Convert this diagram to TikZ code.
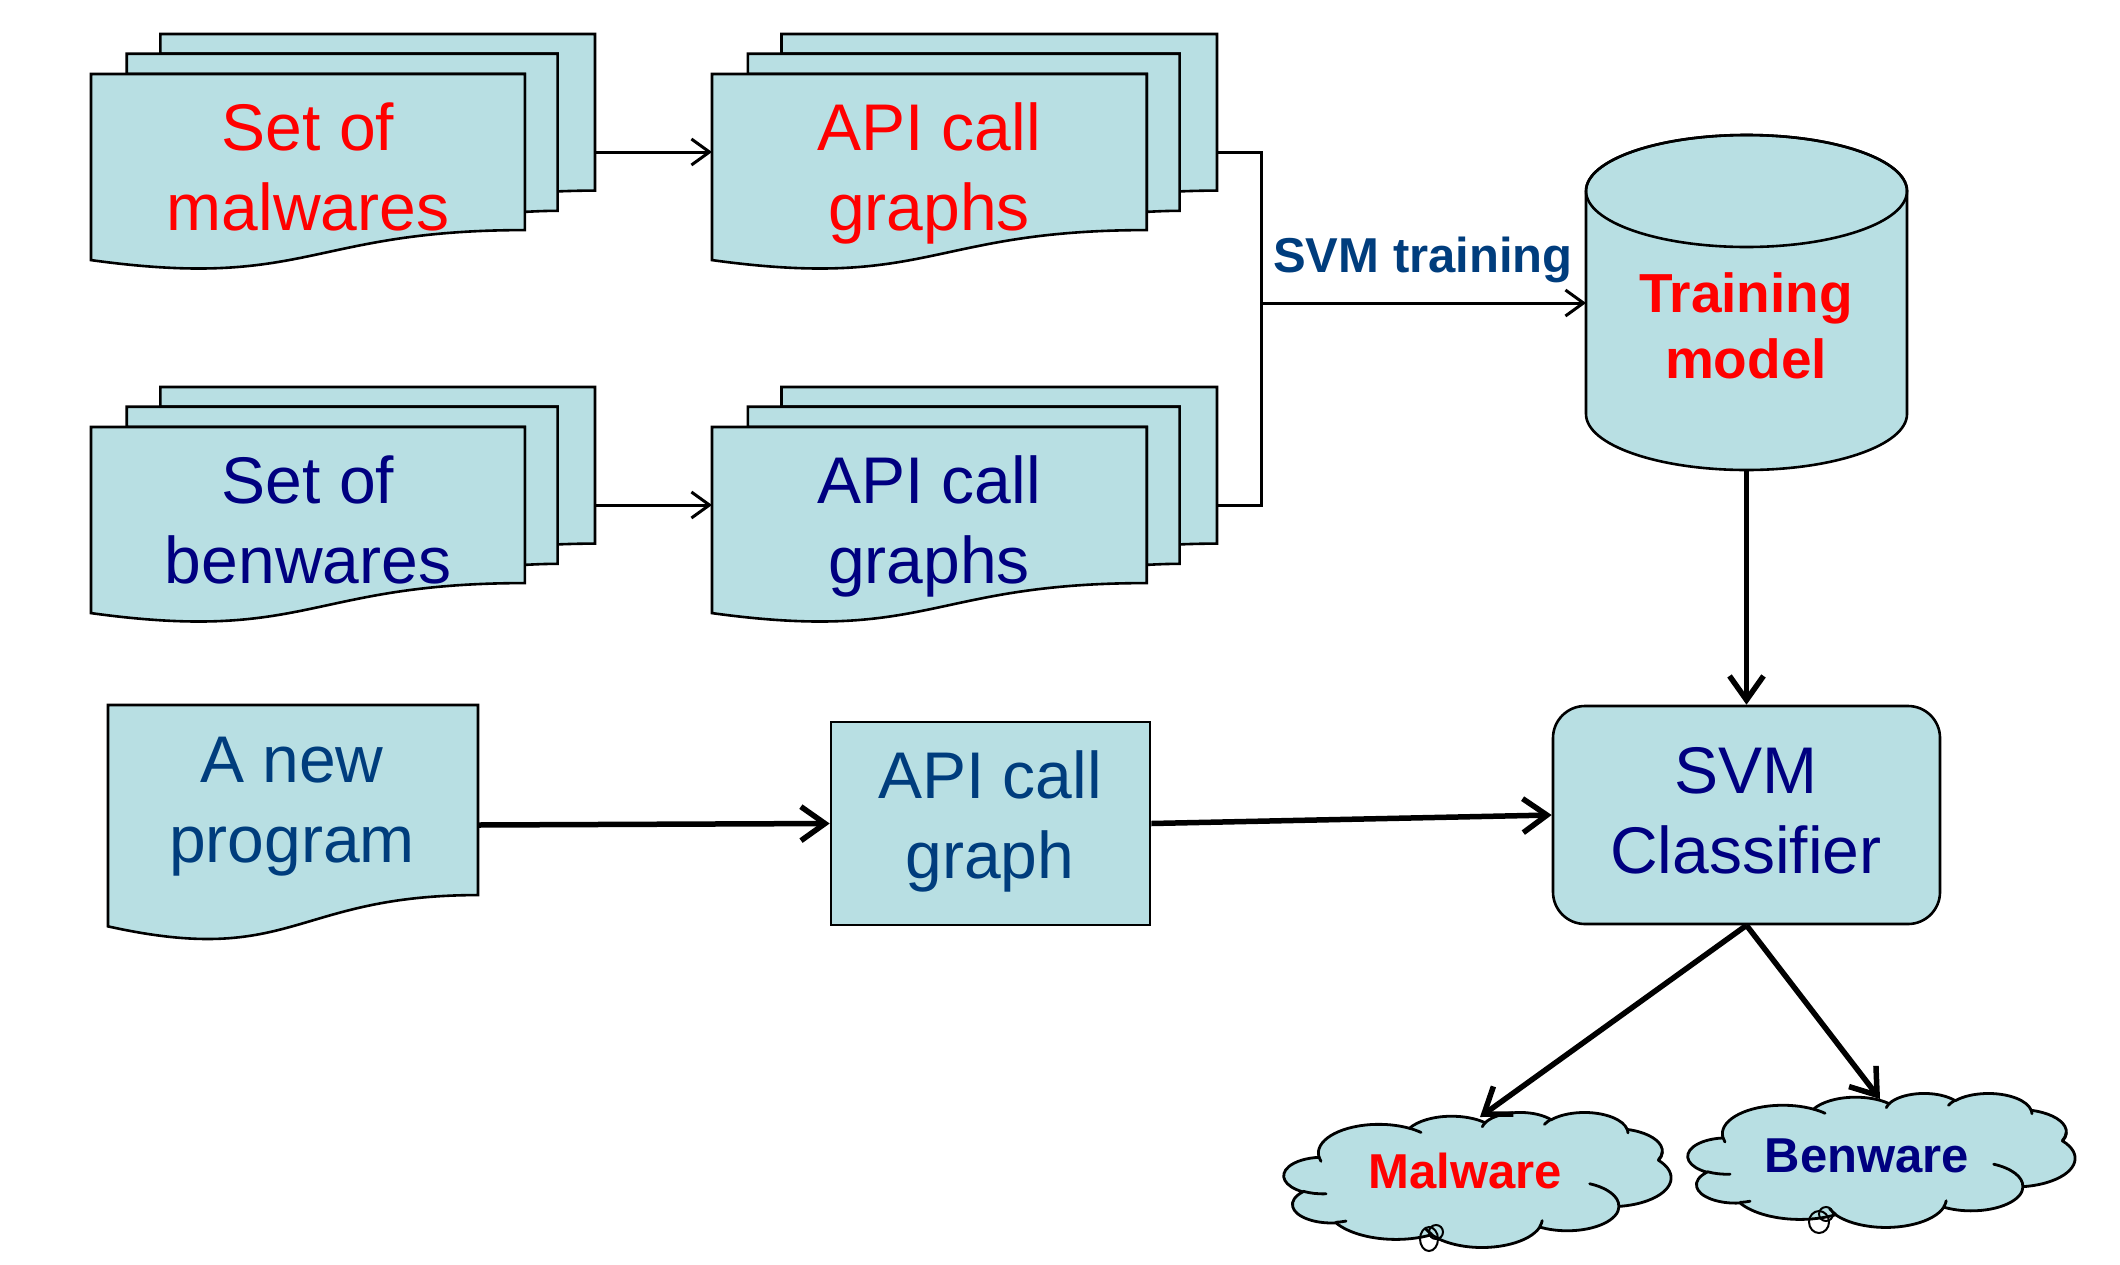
\documentclass[tikz,border=0pt]{standalone}
\usepackage{fontspec}
\setmainfont{Liberation Sans}
\usetikzlibrary{arrows.meta}
\definecolor{boxfill}{RGB}{184,223,227}
\definecolor{navyt}{RGB}{0,0,128}
\definecolor{bluet}{RGB}{0,61,125}
\definecolor{redt}{RGB}{255,0,0}
\tikzset{
  shapeline/.style={draw=black, line width=2.6pt, fill=boxfill, line join=miter},
  cloudline/.style={draw=black, line width=2.8pt, fill=boxfill, line join=round},
  cloudinner/.style={draw=black, line width=2.8pt, line cap=round},
  thinline/.style={line width=3pt},
  thinarrow/.style={line width=3pt, -{Straight Barb[length=18pt,width=26pt]}},
  thickarrow/.style={line width=5.5pt, -{Straight Barb[length=24pt,width=34pt]}},
  bigtext/.style={font=\fontsize{66}{80}\selectfont, inner sep=0pt, anchor=base},
  boldtext/.style={font=\fontsize{49}{60}\selectfont\bfseries, inner sep=0pt, anchor=base},
  modeltext/.style={font=\fontsize{55}{66}\selectfont\bfseries, inner sep=0pt, anchor=base},
}
\newcommand\twolines[2]{\begin{tabular}[t]{@{}c@{}}#1\\#2\end{tabular}}
% PowerPoint-style elliptical arc: radii, visual start angle, visual sweep (positive)
\newcommand\pparc[4]{arc[x radius=#1, y radius=#2,
  start angle={atan2(#1*sin(#3),#2*cos(#3))},
  delta angle={mod(atan2(#1*sin(#3+#4),#2*cos(#3+#4))-atan2(#1*sin(#3),#2*cos(#3))+720,360)}]}
% same with a negative sweep of magnitude #4
\newcommand\pparcn[4]{arc[x radius=#1, y radius=#2,
  start angle={atan2(#1*sin(#3),#2*cos(#3))},
  delta angle={0-mod(atan2(#1*sin(#3),#2*cos(#3))-atan2(#1*sin(#3-#4),#2*cos(#3-#4))+720,360)}]}
\newcommand\ppcloud[4]{%
  \begin{scope}[shift={(#1,#2)}, xscale=#3/4320, yscale=#4/4320]
    \path[cloudline] (390,1437)
      \pparc{675.3}{919.0}{-190.4875}{123.7805}
      \pparc{533.3}{726.7}{-144.1024}{89.9452}
      \pparc{436.5}{594.5}{-145.8079}{99.7230}
      \pparc{485.7}{659.5}{-130.9861}{117.2417}
      \pparc{533.3}{727.3}{-78.7089}{109.0269}
      \pparc{677.5}{922.0}{-46.2673}{130.2690}
      \pparc{578.5}{786.7}{0.6250}{114.0333}
      \pparc{675.2}{921.5}{22.4516}{115.1726}
      \pparc{772.0}{1054.3}{66.2426}{75.7110}
      \pparc{436.0}{591.8}{-274.9421}{146.7356}
      \pparc{434.5}{594.5}{-246.8285}{152.5189}
      -- cycle;
    \path[cloudinner]
      (469.3,2617.7) \pparc{434.5}{594.5}{86.742}{26.4295}
      (692.8,3489.9) \pparc{436.0}{591.8}{73.6105}{11.4475}
      (1647.8,3909.0) \pparc{675.2}{921.5}{137.6242}{14.0811}
      (2882.7,3475.1) \pparc{675.2}{921.5}{6.4533}{15.9984}
      (3412.9,2295.4) \pparc{578.5}{786.7}{-70.2924}{70.9174}
      (4179.8,1535.4) \pparcn{533.3}{727.3}{30.318}{27.7515}
      (3832.4,542.6) \pparc{485.7}{659.5}{-13.7443}{14.8589}
      (2907.8,395.2) \pparc{485.7}{659.5}{-149.1815}{18.1954}
      (2214.1,472.0) \pparc{436.5}{594.5}{-163.4943}{17.6864}
      (1400.0,519.2) \pparc{675.3}{919.0}{-66.7070}{12.3194}
      (412.7,1578.9) \pparc{675.3}{919.0}{157.6544}{11.8582};
  \end{scope}}
\newcommand\mdocshape[4]{%
  \begin{scope}[shift={(#1,#2)}, xscale=#3, yscale=#4]
    \path[shapeline] (0.1376,0.0840) -- (0.1376,0) -- (1,0) -- (1,0.6663)
      .. controls (0.963,0.6663) and (0.9259,0.6698) .. (0.9259,0.6698) -- (0.9259,0.0840) -- cycle;
    \path[shapeline] (0.0709,0.1701) -- (0.0709,0.0840) -- (0.9259,0.0840) -- (0.9259,0.7524)
      .. controls (0.8934,0.7524) and (0.8609,0.7570) .. (0.8609,0.7570) -- (0.8609,0.1701) -- cycle;
    \path[shapeline] (0,0.9621) .. controls (0.4305,1.0899) and (0.4305,0.8344) .. (0.8609,0.8344)
      -- (0.8609,0.1701) -- (0,0.1701) -- cycle;
  \end{scope}}
\begin{document}
\begin{tikzpicture}[x=1pt,y=-1pt]
\useasboundingbox[fill=white] (0,0) rectangle (2120,1264);

% multi-documents
\mdocshape{91}{34}{504}{235}
\mdocshape{712}{34}{505}{235}
\mdocshape{91}{387}{504}{235}
\mdocshape{712}{387}{505}{235}

% single document
\begin{scope}[shift={(108,705)}, xscale=370, yscale=237]
  \path[shapeline] (0,0) -- (1,0) -- (1,0.802) .. controls (0.5,0.802) and (0.5,1.1075) .. (0,0.934) -- cycle;
\end{scope}

% API call graph box
\node[shapeline, rectangle, minimum width=319pt, minimum height=203pt, inner sep=0pt] (api3) at (990.5,823.5) {};

% cylinder
\path[shapeline] (1586,191) -- (1586,414) arc[start angle=180, end angle=0, x radius=160.5, y radius=56]
  -- (1907,191) arc[start angle=0, end angle=-180, x radius=160.5, y radius=56] -- cycle;
\draw[line width=2.6pt] (1746.5,191) ellipse[x radius=160.5, y radius=56];

% classifier
\node[shapeline, rectangle, rounded corners=32pt, minimum width=387pt, minimum height=218pt, inner sep=0pt] (clf) at (1746.5,815) {};

% clouds
\ppcloud{1284}{1112}{387}{135}
\ppcloud{1688}{1093}{387}{134}
\draw[line width=2pt] (1429,1239) ellipse[x radius=9, y radius=12];
\draw[line width=2pt] (1436,1232) circle[radius=7];
\draw[line width=2pt] (1819,1222) ellipse[x radius=10, y radius=11];
\draw[line width=2pt] (1826,1214) circle[radius=7];

% texts
\node[bigtext, text=redt] (maltxt) at (308,150) {\twolines{Set of}{malwares}};
\node[bigtext, text=navyt] (bentxt) at (308,503) {\twolines{Set of}{benwares}};
\node[bigtext, text=redt] (api1txt) at (929,150) {\twolines{API call}{graphs}};
\node[bigtext, text=navyt] (api2txt) at (929,503) {\twolines{API call}{graphs}};
\node[bigtext, text=bluet] (newtxt) at (292,782) {\twolines{A new}{program}};
\node[bigtext, text=bluet] (api3txt) at (990,798) {\twolines{API call}{graph}};
\node[bigtext, text=navyt] (clftxt) at (1746,793) {\twolines{SVM}{Classifier}};
\node[boldtext, text=bluet] (svmtr) at (1423,272) {SVM training};
\node[modeltext, text=redt] (modeltxt) at (1746,312) {\twolines{Training}{model}};
\node[boldtext, text=redt] (malwtxt) at (1465,1188) {Malware};
\node[boldtext, text=navyt] (benwtxt) at (1867,1172) {Benware};

% connectors
\coordinate (m1out) at (595,152);
\coordinate (a1in) at (712,152);
\coordinate (m2out) at (595,505);
\coordinate (a2in) at (712,505);
\coordinate (a1out) at (1217,152);
\coordinate (a2out) at (1217,505);
\coordinate (junc) at (1261,303);
\coordinate (cylin) at (1586,303);
\coordinate (cylbot) at (1746.5,470);
\coordinate (newout) at (478,825);
\coordinate (malcloudtop) at (1480,1117);
\coordinate (bencloudtop) at (1880,1099);

\draw[thinarrow] (m1out) -- (a1in);
\draw[thinarrow] (m2out) -- (a2in);
\draw[thinline] (a1out) -| (junc) |- (a2out);
\draw[thinarrow] (junc) -- (cylin);
\draw[thickarrow] (cylbot) -- (clf.north);
\draw[thickarrow] (newout) -- (api3.west);
\draw[thickarrow] (api3.east) -- (clf.west);
\draw[thickarrow] (clf.south) -- (malcloudtop);
\draw[thickarrow] (clf.south) -- (bencloudtop);
\end{tikzpicture}
\end{document}
